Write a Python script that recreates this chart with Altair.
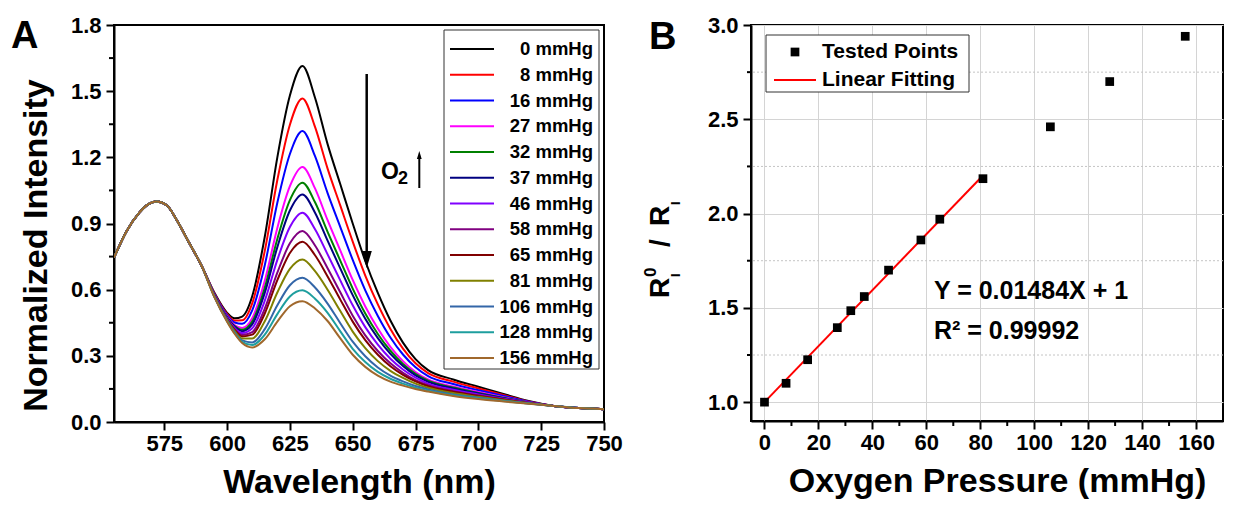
import altair as alt
import pandas as pd

FONT = "Liberation Sans"

# ---------------- Panel A data ----------------
PRESSURES = ["0 mmHg", "8 mmHg", "16 mmHg", "27 mmHg", "32 mmHg", "37 mmHg", "46 mmHg",
             "58 mmHg", "65 mmHg", "81 mmHg", "106 mmHg", "128 mmHg", "156 mmHg"]
COLORS = ["#000000", "#FF0000", "#0000FF", "#FF00FF", "#008000", "#000080", "#8000FF",
          "#800080", "#800000", "#808000", "#3366A8", "#1E9E9E", "#A0682C"]

WL_HEAD = [555, 560, 565, 568, 572, 576, 580, 585, 590]
INT_HEAD = [0.745, 0.865, 0.948, 0.982, 1.000, 0.983, 0.915, 0.810, 0.705]

WL_TAIL = [595, 600, 603, 606, 610, 615, 620, 625, 630, 635, 640, 645, 650, 655, 660,
           665, 670, 675, 680, 690, 700, 710, 720, 730, 740, 750]

INT_0 = [0.585, 0.495, 0.470, 0.478, 0.570, 0.840, 1.200, 1.480, 1.614, 1.470, 1.260, 1.080, 0.900,
         0.730, 0.585, 0.460, 0.360, 0.285, 0.235, 0.193, 0.160, 0.127, 0.095, 0.073, 0.063, 0.058]
INT_8 = [0.582, 0.490, 0.460, 0.461, 0.538, 0.776, 1.097, 1.348, 1.467, 1.338, 1.149, 0.983, 0.818,
         0.664, 0.533, 0.422, 0.333, 0.266, 0.222, 0.183, 0.152, 0.122, 0.093, 0.073, 0.063, 0.058]
INT_16 = [0.579, 0.484, 0.451, 0.445, 0.506, 0.711, 0.994, 1.215, 1.319, 1.205, 1.038, 0.886, 0.735,
          0.597, 0.481, 0.383, 0.306, 0.248, 0.208, 0.172, 0.144, 0.118, 0.092, 0.073, 0.063, 0.058]
INT_27 = [0.576, 0.478, 0.440, 0.426, 0.470, 0.640, 0.880, 1.069, 1.156, 1.059, 0.915, 0.779, 0.644,
          0.524, 0.424, 0.341, 0.276, 0.227, 0.193, 0.161, 0.136, 0.112, 0.090, 0.073, 0.063, 0.058]
INT_32 = [0.575, 0.475, 0.435, 0.418, 0.455, 0.609, 0.830, 1.006, 1.085, 0.996, 0.862, 0.733, 0.605,
          0.492, 0.399, 0.323, 0.263, 0.218, 0.187, 0.156, 0.132, 0.110, 0.089, 0.073, 0.063, 0.058]
INT_37 = [0.574, 0.473, 0.432, 0.412, 0.443, 0.586, 0.793, 0.959, 1.032, 0.949, 0.822, 0.698, 0.575,
          0.468, 0.380, 0.309, 0.254, 0.211, 0.182, 0.152, 0.129, 0.108, 0.088, 0.073, 0.063, 0.058]
INT_46 = [0.573, 0.470, 0.426, 0.403, 0.425, 0.550, 0.735, 0.884, 0.949, 0.874, 0.760, 0.643, 0.529,
          0.430, 0.351, 0.287, 0.238, 0.201, 0.174, 0.146, 0.125, 0.106, 0.088, 0.073, 0.063, 0.058]
INT_58 = [0.571, 0.467, 0.421, 0.394, 0.407, 0.514, 0.677, 0.810, 0.866, 0.800, 0.697, 0.589, 0.482,
          0.393, 0.322, 0.266, 0.223, 0.190, 0.167, 0.140, 0.121, 0.103, 0.087, 0.073, 0.063, 0.058]
INT_65 = [0.570, 0.465, 0.418, 0.388, 0.396, 0.492, 0.643, 0.766, 0.817, 0.756, 0.660, 0.556, 0.455,
          0.371, 0.305, 0.253, 0.214, 0.184, 0.162, 0.137, 0.118, 0.102, 0.086, 0.073, 0.063, 0.058]
INT_81 = [0.569, 0.462, 0.412, 0.379, 0.379, 0.457, 0.587, 0.694, 0.737, 0.684, 0.600, 0.504, 0.410,
          0.335, 0.276, 0.232, 0.200, 0.174, 0.155, 0.131, 0.114, 0.099, 0.085, 0.073, 0.063, 0.058]
INT_106 = [0.567, 0.459, 0.407, 0.370, 0.361, 0.421, 0.529, 0.620, 0.654, 0.610, 0.537, 0.449, 0.364,
           0.298, 0.247, 0.210, 0.184, 0.163, 0.148, 0.125, 0.110, 0.096, 0.084, 0.073, 0.063, 0.058]
INT_128 = [0.566, 0.457, 0.403, 0.364, 0.349, 0.396, 0.489, 0.569, 0.597, 0.559, 0.495, 0.412, 0.332,
           0.272, 0.227, 0.196, 0.174, 0.156, 0.142, 0.121, 0.107, 0.095, 0.084, 0.073, 0.063, 0.058]
INT_156 = [0.565, 0.455, 0.400, 0.358, 0.338, 0.375, 0.455, 0.525, 0.548, 0.515, 0.458, 0.380, 0.305,
           0.250, 0.210, 0.183, 0.165, 0.150, 0.138, 0.118, 0.104, 0.093, 0.083, 0.073, 0.063, 0.058]

SERIES = [INT_0, INT_8, INT_16, INT_27, INT_32, INT_37, INT_46, INT_58, INT_65, INT_81,
          INT_106, INT_128, INT_156]

X_TICKS_A = [575, 600, 625, 650, 675, 700, 725, 750]
Y_TICKS_A = [0.0, 0.3, 0.6, 0.9, 1.2, 1.5, 1.8]
MINOR_Y_A = [0.15, 0.45, 0.75, 1.05, 1.35, 1.65]

# ---------------- Panel B data ----------------
PRESSURE_MMHG = [0, 8, 16, 27, 32, 37, 46, 58, 65, 81, 106, 128, 156]
RATIO = [1.00, 1.10, 1.225, 1.395, 1.485, 1.56, 1.70, 1.86, 1.97, 2.185, 2.46, 2.70, 2.94]
FIT_X = [0, 81]
FIT_Y = [1.0, 2.202]
X_TICKS_B = [0, 20, 40, 60, 80, 100, 120, 140, 160]
MINOR_X_B = [10, 30, 50, 70, 90, 110, 130, 150]
Y_TICKS_B = [1.0, 1.5, 2.0, 2.5, 3.0]
MINOR_Y_B = [1.25, 1.75, 2.25, 2.75]

# ---------------- build tables ----------------
rows = []
for label, tail in zip(PRESSURES, SERIES):
    for w, v in zip(WL_HEAD + WL_TAIL, INT_HEAD + tail):
        rows.append({"wavelength": w, "intensity": v, "pressure": label})
spec_df = pd.DataFrame(rows)
one = pd.DataFrame({"k": [0]})

WA, HA = 490, 397
WB, HB = 472, 396

xa = alt.Scale(domain=[555, 750], nice=False, zero=False)
ya = alt.Scale(domain=[0, 1.8], nice=False, zero=False)
color_enc = alt.Color("pressure:N", scale=alt.Scale(domain=PRESSURES, range=COLORS), legend=None)

lines = alt.Chart(spec_df).mark_line(strokeWidth=2, interpolate="monotone", clip=True).encode(
    x=alt.X("wavelength:Q", scale=xa,
            axis=alt.Axis(values=X_TICKS_A, title="Wavelength (nm)", grid=False,
                          labelPadding=3, titlePadding=11, labelFlush=False)),
    y=alt.Y("intensity:Q", scale=ya,
            axis=alt.Axis(values=Y_TICKS_A, format=".1f", title="Normalized Intensity", grid=False,
                          labelPadding=5, titlePadding=17, labelFlush=False, titleY=220)),
    color=color_enc,
)

minor_a = alt.Chart(pd.DataFrame({"v": MINOR_Y_A})).mark_rule(color="black", strokeWidth=2).encode(
    y=alt.Y("v:Q", scale=ya, axis=None), x=alt.value(-5), x2=alt.value(0))

arrow_line = alt.Chart(one).mark_rule(color="black", strokeWidth=2.5).encode(
    x=alt.value(252.7), y=alt.value(49), y2=alt.value(232))
arrow_head = alt.Chart(one).mark_point(shape="M-0.6,-1L0.6,-1L0,1Z", filled=True, size=289,
                                       color="black", opacity=1).encode(
    x=alt.value(252.7), y=alt.value(234.5))
up_line = alt.Chart(one).mark_rule(color="black", strokeWidth=2).encode(
    x=alt.value(305.3), y=alt.value(132), y2=alt.value(163))
up_head = alt.Chart(one).mark_point(shape="M-0.6,1L0.6,1L0,-1Z", filled=True, size=64,
                                    color="black", opacity=1).encode(
    x=alt.value(305.3), y=alt.value(130))
o_text = alt.Chart(one).mark_text(text="O", font=FONT, fontSize=23, fontWeight="bold",
                                  align="center", baseline="alphabetic", color="black").encode(
    x=alt.value(276), y=alt.value(154))
o_sub = alt.Chart(one).mark_text(text="2", font=FONT, fontSize=18, fontWeight="bold",
                                 align="left", baseline="alphabetic", color="black").encode(
    x=alt.value(284), y=alt.value(159))
label_a = alt.Chart(one).mark_text(text="A", font=FONT, fontSize=38, fontWeight="bold",
                                   align="left", baseline="alphabetic", color="black").encode(
    x=alt.value(-103), y=alt.value(23))

leg_box_a = alt.Chart(one).mark_rect(fill="white", stroke="#333333", strokeWidth=1).encode(
    x=alt.value(330), x2=alt.value(485), y=alt.value(5), y2=alt.value(344))
leg_df = pd.DataFrame({"pressure": PRESSURES})
leg_y = alt.Y("pressure:N", sort=PRESSURES,
              scale=alt.Scale(type="point", domain=PRESSURES, range=[24, 333], padding=0),
              axis=None)
leg_rules = alt.Chart(leg_df).mark_rule(strokeWidth=2).encode(
    x=alt.value(336), x2=alt.value(380), y=leg_y, color=color_enc)
leg_text = alt.Chart(leg_df).mark_text(align="right", baseline="middle", font=FONT, fontSize=18.5,
                                       fontWeight="bold", color="black").encode(
    x=alt.value(479), y=leg_y, text="pressure:N")

panel_a = alt.layer(lines, minor_a, arrow_line, arrow_head, up_line, up_head, o_text, o_sub,
                    label_a, leg_box_a, leg_rules, leg_text).resolve_scale(y="independent").properties(
    width=WA, height=HA)

# ---------------- Panel B ----------------
xb = alt.Scale(domain=[-5, 170], nice=False, zero=False)
yb = alt.Scale(domain=[0.9, 3.0], nice=False, zero=False)

pts_df = pd.DataFrame({"p": PRESSURE_MMHG, "r": RATIO})
fit_df = pd.DataFrame({"p": FIT_X, "r": FIT_Y})

minor_grid = alt.Chart(pd.DataFrame({"v": MINOR_Y_B})).mark_rule(
    color="#c4c4c4", strokeWidth=1, strokeDash=[2, 2]).encode(y=alt.Y("v:Q", scale=yb))
minor_yt = alt.Chart(pd.DataFrame({"v": MINOR_Y_B})).mark_rule(color="black", strokeWidth=2).encode(
    y=alt.Y("v:Q", scale=yb), x=alt.value(-4), x2=alt.value(0))
minor_xt = alt.Chart(pd.DataFrame({"v": MINOR_X_B})).mark_rule(color="black", strokeWidth=2).encode(
    x=alt.X("v:Q", scale=xb), y=alt.value(HB), y2=alt.value(HB + 5))
fit = alt.Chart(fit_df).mark_line(color="#FF0000", strokeWidth=2).encode(
    x=alt.X("p:Q", scale=xb), y=alt.Y("r:Q", scale=yb))
pts = alt.Chart(pts_df).mark_square(size=76, color="black", opacity=1).encode(
    x=alt.X("p:Q", scale=xb,
            axis=alt.Axis(values=X_TICKS_B, title="Oxygen Pressure (mmHg)", grid=True,
                          labelPadding=3, titlePadding=11, labelFlush=False, titleX=246)),
    y=alt.Y("r:Q", scale=yb,
            axis=alt.Axis(values=Y_TICKS_B, format=".1f", title=None, grid=True,
                          labelPadding=5, labelFlush=False)),
)

leg_box_b = alt.Chart(one).mark_rect(fill="white", stroke="#333333", strokeWidth=1).encode(
    x=alt.value(15), x2=alt.value(218), y=alt.value(10), y2=alt.value(67))
leg_sq = alt.Chart(one).mark_square(size=76, color="black", opacity=1).encode(
    x=alt.value(44), y=alt.value(27))
leg_red = alt.Chart(one).mark_rule(color="#FF0000", strokeWidth=2).encode(
    x=alt.value(23), x2=alt.value(65), y=alt.value(55))


def txt(s, x, y, size, align="left", baseline="middle", angle=0):
    kw = dict(text=s, font=FONT, fontSize=size, fontWeight="bold", align=align,
              baseline=baseline, color="black")
    if angle:
        kw["angle"] = angle
    return alt.Chart(one).mark_text(**kw).encode(x=alt.value(x), y=alt.value(y))


leg_t1 = txt("Tested Points", 71, 27, 21)
leg_t2 = txt("Linear Fitting", 71, 55, 21)
eq1 = txt("Y = 0.01484X + 1", 183, 266, 25)
eq2 = txt("R² = 0.99992", 183, 306, 25)
label_b = txt("B", -102, 24, 38, baseline="alphabetic")

# y title pieces: R_I^0 / R_I (rotated)
yt_r1 = txt("R", -82, 273, 28, baseline="alphabetic", angle=270)
yt_sup = txt("0", -95, 252, 17, baseline="alphabetic", angle=270)
yt_sub1 = txt("I", -71, 252, 13, baseline="alphabetic", angle=270)
yt_slash = txt("/", -82, 218, 28, align="center", baseline="alphabetic", angle=270)
yt_r2 = txt("R", -82, 201, 28, baseline="alphabetic", angle=270)
yt_sub2 = txt("I", -71, 180, 13, baseline="alphabetic", angle=270)

panel_b = alt.layer(minor_grid, minor_yt, minor_xt, fit, pts, leg_box_b, leg_sq, leg_red,
                    leg_t1, leg_t2, eq1, eq2, label_b, yt_r1, yt_sup, yt_sub1, yt_slash,
                    yt_r2, yt_sub2).properties(width=WB, height=HB)

chart = alt.hconcat(panel_a, panel_b, spacing=147, bounds="flush").properties(
    padding={"left": 2, "top": 5, "right": 5, "bottom": 0}
).configure(font=FONT).configure_view(
    stroke="black", strokeWidth=2
).configure_axis(
    labelFont=FONT, labelFontSize=22, labelFontWeight="bold", labelColor="black",
    titleFont=FONT, titleFontSize=34, titleFontWeight="bold", titleColor="black",
    domainColor="black", domainWidth=2, tickColor="black", tickWidth=2, tickSize=8,
    gridColor="#d4d4d4", gridWidth=1, labelOverlap=False,
)

chart.save("out.html", embed_options={"renderer": "svg", "actions": False})
